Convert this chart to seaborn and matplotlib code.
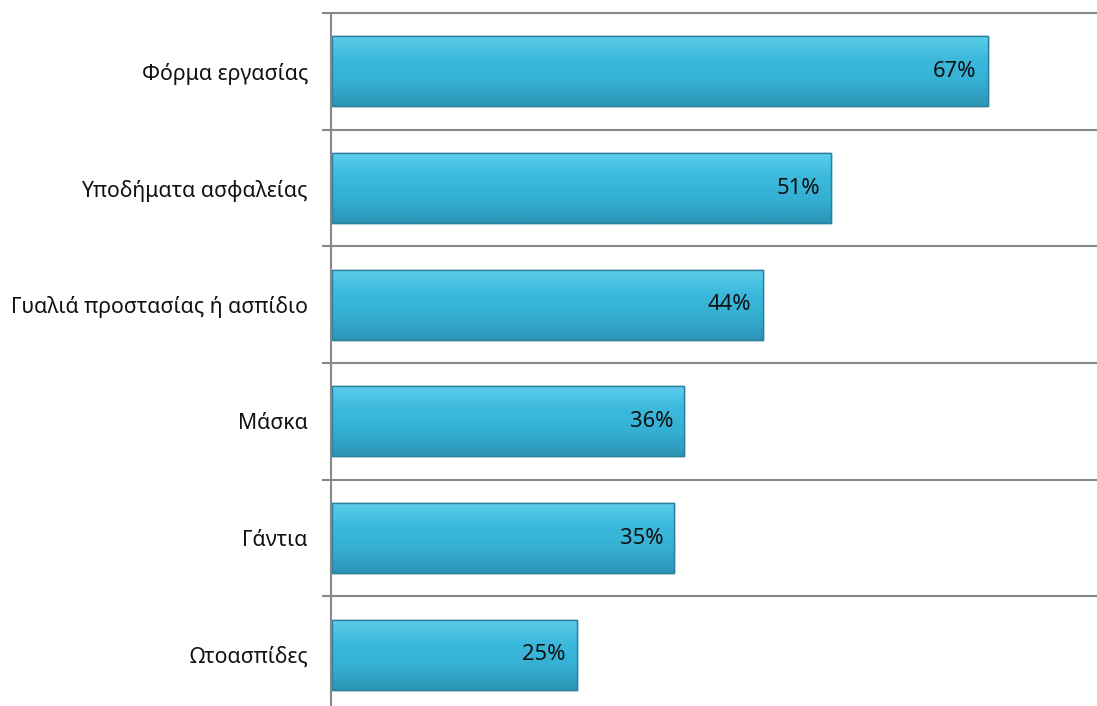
import matplotlib
matplotlib.use("Agg")
import matplotlib.pyplot as plt
import matplotlib.colors as mcolors
import seaborn as sns
import pandas as pd
import numpy as np

categories = ["Φόρμα εργασίας", "Υποδήματα ασφαλείας", "Γυαλιά προστασίας ή ασπίδιο",
              "Μάσκα", "Γάντια", "Ωτοασπίδες"]
values = [67, 51, 44, 36, 35, 25]
value_labels = ["67%", "51%", "44%", "36%", "35%", "25%"]

sns.set_theme(style="white")
plt.rcParams['font.family'] = ['Noto Sans', 'DejaVu Sans']

W, H = 1097, 706
fig = plt.figure(figsize=(W / 100, H / 100), dpi=100)
ax = fig.add_axes([331 / W, 1 - 713 / H, 1 - 331 / W + 0.01, 700 / H])

df = pd.DataFrame({"cat": categories, "val": values})
sns.barplot(data=df, y="cat", x="val", orient="h", color="#38b7db",
            saturation=1, width=0.6, edgecolor="#2a7f9c", linewidth=1.0, ax=ax)

ax.set_xlim(-0.1, 79.3)
ax.set_ylim(len(categories) - 0.5, -0.5)
ax.set_xlabel("")
ax.set_ylabel("")
ax.set_xticks([])

# vertical gradient fill for each bar (lighter top, darker bottom)
cmap = mcolors.LinearSegmentedColormap.from_list(
    "bar", ["#5ccdea", "#3bb9dd", "#34afd2", "#2c95b6"])
grad = np.linspace(0, 1, 64).reshape(-1, 1)
for p in list(ax.patches):
    x0, y0 = p.get_x(), p.get_y()
    w, h = p.get_width(), p.get_height()
    im = ax.imshow(grad, cmap=cmap, aspect="auto",
                   extent=(x0, x0 + w, y0 + h, y0), origin="upper", zorder=p.get_zorder() + 0.1)
    im.set_clip_path(p)
    edge = plt.Rectangle((x0, y0), w, h, fill=False, edgecolor="#2a7f9c",
                         linewidth=1.0, zorder=p.get_zorder() + 0.2)
    ax.add_patch(edge)
ax.set_xlim(-0.1, 79.3)
ax.set_ylim(len(categories) - 0.5, -0.5)

# category boundary gridlines and ticks
bounds = np.arange(-0.5, len(categories) + 0.5, 1.0)
ax.set_yticks(bounds, minor=True)
ax.tick_params(axis="y", which="minor", length=6.5, width=1.5, color="#888888", left=True)
ax.tick_params(axis="y", which="major", length=0, pad=23 * 0.72, labelsize=15.3, labelcolor="#111111")
ax.grid(True, axis="y", which="minor", color="#888888", linewidth=1.5)
ax.grid(False, axis="y", which="major")
ax.set_axisbelow(True)
for t in ax.yaxis.get_minor_ticks():
    t.gridline.set_clip_on(False)
    t.tick1line.set_clip_on(False)

for s in ["top", "right", "bottom"]:
    ax.spines[s].set_visible(False)
ax.spines["left"].set_color("#888888")
ax.spines["left"].set_linewidth(1.5)

for i, (v, lab) in enumerate(zip(values, value_labels)):
    ax.annotate(lab, xy=(v, i), xytext=(-8, 0), textcoords="offset points",
                ha="right", va="center", fontsize=15.8, color="#111111", zorder=10)

fig.savefig("out.png", dpi=100)
